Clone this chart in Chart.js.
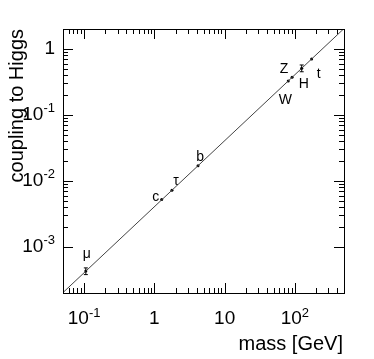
<!DOCTYPE html>
<html>
<head>
<meta charset="utf-8">
<script src="https://cdn.jsdelivr.net/npm/chart.js@4.4.1/dist/chart.umd.min.js"></script>
<style>
  html, body { margin: 0; padding: 0; background: #fff; }
  #wrap { width: 374px; height: 359px; }
</style>
</head>
<body>
<div id="wrap"><canvas id="higgs"></canvas></div>
<script>
// particle masses [GeV] and couplings to the Higgs
const particles = ["μ", "c", "τ", "b", "W", "Z", "H", "t"];
const masses = [0.1057, 1.27, 1.777, 4.18, 80.4, 91.2, 125, 173];
const couplings = [0.00043, 0.0052, 0.0072, 0.017, 0.327, 0.371, 0.51, 0.70];
const errors = [0.00005, 0, 0, 0, 0, 0, 0.06, 0];

// SM expectation line
const lineMass = [0.05, 500];
const lineCoupling = [0.000203, 2.03];

// axis ranges and tick labels
const xRange = [0.05, 500];
const yRange = [0.0002, 2];
const xTicks = [0.1, 1, 10, 100];
const xTickLabels = [["10", "-1"], ["1", ""], ["10", ""], ["10", "2"]];
const yTicks = [0.001, 0.01, 0.1, 1];
const yTickLabels = [["10", "-3"], ["10", "-2"], ["10", "-1"], ["1", ""]];

const FONT = "'Liberation Sans', Arial, sans-serif";

// label offsets from the points, in px
const labelOffsets = [[1, -17], [-6, -2], [4, -9], [2, -9], [-3, 19], [-8, -8], [2, 16], [7, 15]];

function drawSup(ctx, base, sup, x, y, align) {
  ctx.font = "19px " + FONT;
  const wb = ctx.measureText(base).width;
  ctx.font = "13px " + FONT;
  const ws = sup ? ctx.measureText(sup).width : 0;
  const total = wb + ws;
  let x0 = align === "right" ? x - total : x - total / 2;
  ctx.textAlign = "left";
  ctx.textBaseline = "middle";
  ctx.font = "19px " + FONT;
  ctx.fillText(base, x0, y);
  if (sup) {
    ctx.font = "13px " + FONT;
    ctx.fillText(sup, x0 + wb, y - 6);
  }
}

const rootStyle = {
  id: "rootStyle",
  afterDraw(chart) {
    const { ctx, chartArea: a, scales: { x, y } } = chart;
    ctx.save();
    ctx.fillStyle = "#000";
    ctx.strokeStyle = "#000";
    ctx.lineWidth = 1;

    // ticks on all four sides
    ctx.beginPath();
    for (let d = -3; d <= 3; d++) {
      for (let k = 1; k <= 9; k++) {
        const v = k * Math.pow(10, d);
        const len = k === 1 ? 10 : 5;
        if (v >= xRange[0] && v <= xRange[1]) {
          const px = Math.round(x.getPixelForValue(v)) + 0.5;
          ctx.moveTo(px, a.bottom); ctx.lineTo(px, a.bottom - len);
          ctx.moveTo(px, a.top); ctx.lineTo(px, a.top + len);
        }
        if (v >= yRange[0] && v <= yRange[1]) {
          const py = Math.round(y.getPixelForValue(v)) + 0.5;
          ctx.moveTo(a.left, py); ctx.lineTo(a.left + len, py);
          ctx.moveTo(a.right, py); ctx.lineTo(a.right - len, py);
        }
      }
    }
    ctx.stroke();

    // frame
    ctx.strokeRect(Math.round(a.left) + 0.5, Math.round(a.top) + 0.5,
                   Math.round(a.right - a.left), Math.round(a.bottom - a.top));

    // error bars
    ctx.beginPath();
    masses.forEach((m, i) => {
      if (!errors[i]) return;
      const px = x.getPixelForValue(m);
      const y1 = y.getPixelForValue(couplings[i] - errors[i]);
      const y2 = y.getPixelForValue(couplings[i] + errors[i]);
      ctx.moveTo(px, y1); ctx.lineTo(px, y2);
      ctx.moveTo(px - 2, y1); ctx.lineTo(px + 2, y1);
      ctx.moveTo(px - 2, y2); ctx.lineTo(px + 2, y2);
    });
    ctx.stroke();

    // tick labels
    xTicks.forEach((v, i) => {
      drawSup(ctx, xTickLabels[i][0], xTickLabels[i][1], x.getPixelForValue(v), a.bottom + 26, "center");
    });
    yTicks.forEach((v, i) => {
      drawSup(ctx, yTickLabels[i][0], yTickLabels[i][1], a.left - 8, y.getPixelForValue(v), "right");
    });

    // particle labels
    ctx.font = "14px " + FONT;
    ctx.textAlign = "center";
    ctx.textBaseline = "middle";
    particles.forEach((p, i) => {
      ctx.fillText(p, x.getPixelForValue(masses[i]) + labelOffsets[i][0],
                   y.getPixelForValue(couplings[i]) + labelOffsets[i][1]);
    });

    // axis titles
    ctx.font = "20px " + FONT;
    ctx.textAlign = "right";
    ctx.textBaseline = "alphabetic";
    ctx.fillText("mass [GeV]", a.right - 1, 350);
    ctx.save();
    ctx.translate(23, a.top);
    ctx.rotate(-Math.PI / 2);
    ctx.fillText("coupling to Higgs", 0, 0);
    ctx.restore();

    ctx.restore();
  }
};

new Chart(document.getElementById("higgs"), {
  type: "scatter",
  data: {
    datasets: [
      {
        label: "SM",
        data: lineMass.map((m, i) => ({ x: m, y: lineCoupling[i] })),
        showLine: true,
        borderColor: "#444",
        borderWidth: 1,
        pointRadius: 0,
      },
      {
        label: "particles",
        data: masses.map((m, i) => ({ x: m, y: couplings[i] })),
        backgroundColor: "#000",
        borderWidth: 0,
        pointRadius: 1.5,
      }
    ]
  },
  options: {
    responsive: true,
    maintainAspectRatio: false,
    animation: false,
    layout: { padding: { left: 63, right: 30, top: 29, bottom: 66 } },
    plugins: { legend: { display: false }, tooltip: { enabled: false } },
    scales: {
      x: { type: "logarithmic", min: xRange[0], max: xRange[1], display: false },
      y: { type: "logarithmic", min: yRange[0], max: yRange[1], display: false }
    }
  },
  plugins: [rootStyle]
});
</script>
</body>
</html>
